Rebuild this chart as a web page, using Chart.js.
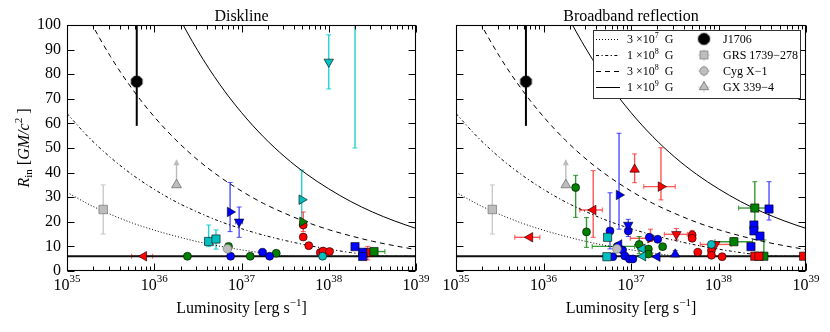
<!DOCTYPE html>
<html><head><meta charset="utf-8">
<script src="https://cdn.jsdelivr.net/npm/chart.js@4.4.1/dist/chart.umd.min.js"></script>
<style>
html,body{margin:0;padding:0;background:#fff;}
body{width:830px;height:332px;position:relative;overflow:hidden;}
canvas{position:absolute;top:0;}
#cL{left:0;} #cR{left:420px;}
</style></head><body>
<canvas id="cL" width="440" height="332"></canvas>
<canvas id="cR" width="410" height="332"></canvas>
<script>
// ---------------- text ----------------
const panelTitles = ['Diskline', 'Broadband reflection'];
const xDecades = [35, 36, 37, 38, 39];
const curveLabelMant = ['3 \u00d710', '1 \u00d710', '3 \u00d710', '1 \u00d710'];
const curveLabelExp = ['7', '8', '8', '9'];
const sourceNames = ['J1706', 'GRS 1739\u2212278', 'Cyg X\u22121', 'GX 339\u22124'];

// ---------------- model curves ----------------
const curveLum = [1e35, 1.778e35, 3.162e35, 5.623e35, 1e36, 1.778e36, 3.162e36, 5.623e36, 1e37,
                  1.778e37, 3.162e37, 5.623e37, 1e38, 1.778e38, 3.162e38, 5.623e38, 1e39];
const curve3e7 = [32, 27.1, 23.0, 19.5, 16.6, 14.1, 11.9, 10.1, 8.6, 7.3, 6.2, 6, 6, 6, 6, 6, 6];
const curve1e8 = [64, 54.3, 46.1, 39.1, 33.2, 28.1, 23.9, 20.2, 17.2, 14.6, 12.4, 10.5, 8.9, 7.5, 6.4, 6, 6];
const curve3e8 = [121, 102.7, 87.1, 73.9, 62.7, 53.2, 45.1, 38.3, 32.5, 27.5, 23.4, 19.8, 16.8, 14.3, 12.1, 10.3, 8.7];
const curve1e9 = [240, 203.6, 172.7, 146.5, 124.3, 105.5, 89.5, 75.9, 64.4, 54.6, 46.3, 39.3, 33.4, 28.3, 24.0, 20.4, 17.3];
const iscoLum = [1e35, 1e39];
const iscoR = [6, 6];

// ---------------- sources: [L, R, R_lo, R_hi, L_lo, L_hi] ----------------
const j1706 = [[6.3e35, 77, 59, 100]];
const grs1739 = [[2.6e35, 25, 15, 35]];
const cygX1 = [[6.9e36, 9]];
const gx339 = [[1.8e36, 35, 35, 45]]; // lower limit

// Diskline panel
const dlRedCircle = [[5.1e37, 18.7, 16, 24], [5.1e37, 13.8], [5.9e37, 10.3], [8.0e37, 7.5], [8.6e37, 8.1], [1.02e38, 7.9]];
const dlRedLeft = [[7.6e35, 6, null, null, 5.5e35, 9.6e35]];
const dlRedSquare = [[2.8e38, 7.5, 4.5, 10]];
const dlBlueCircle = [[7.5e36, 6], [1.74e37, 7.6], [2.1e37, 6]];
const dlBlueRight = [[7.4e36, 24, 16, 36]];
const dlBlueDown = [[9.4e36, 20, 13.7, 26, 8.6e36, 1.03e37]];
const dlBlueSquare = [[2.0e38, 9.9], [2.45e38, 7.6], [2.45e38, 5.9]];
const dlGreenCircle = [[2.4e36, 6], [7.1e36, 10], [1.26e37, 6], [2.5e37, 7.2]];
const dlGreenRight = [[5.0e37, 20]];
const dlGreenSquare = [[3.3e38, 7.9, null, null, 2.9e38, 4.4e38]];
const dlCyanSquare = [[4.2e36, 12, 9.9, 18.7], [5.1e36, 13, 8.9, 16.7]];
const dlCyanRight = [[4.9e37, 29, 20, 41]];
const dlCyanDown = [[1.0e38, 85, 74, 96], [2.0e38, 130, 50, 200]];
const dlCyanCircle = [[8.5e37, 6]];

// Broadband reflection panel
const bbRedCircle = [[5.0e37, 14.6, 13, 16.5], [5.0e37, 13.3], [5.8e37, 7.6], [8.3e37, 8.3], [8.3e37, 6.4], [1.1e38, 5.8]];
const bbRedLeft = [[7.0e35, 13.7, null, null, 4.7e35, 9.1e35], [3.7e36, 24.8, 13.7, 40.8, 2.6e36, 4.7e36]];
const bbRedUp = [[1.1e37, 41.3, 35.9, 47.6]];
const bbRedRight = [[2.2e37, 34.3, 28.9, 50.1, 1.4e37, 3.2e37], [1.67e37, 13.3, 12, 17, 9.8e36, 1.8e37]];
const bbRedDown = [[3.3e37, 14.9, 12.6, 17.3, 2.4e37, 4.4e37], [9.2e37, 10.8, null, null, 6.2e37, 1.4e38]];
const bbRedSquare = [[2.6e38, 6], [2.9e38, 6], [9.4e38, 6]];
const bbBlueCircle = [[5.75e36, 16.3, 9, 31.8], [6.2e36, 5.8], [9.3e36, 16.3], [8.0e36, 8.5], [8.5e36, 6.1],
                      [9.6e36, 4.9], [1.05e37, 4.9], [1.62e37, 13.7], [2.02e37, 12.9]];
const bbBlueRight = [[7.3e36, 30.9, 17, 56]];
const bbBlueDown = [[9.3e36, 18.7, 14, 21, 8.8e36, 9.9e36]];
const bbBlueLeft = [[7.3e36, 10.8], [2.0e37, 5.8]];
const bbBlueUp = [[3.2e37, 6.8, 5.8, 8.3]];
const bbBlueSquare = [[2.35e38, 9.9], [2.54e38, 18.7], [2.54e38, 16.3], [2.98e38, 14.2], [3.78e38, 25.2, 20.7, 36.3]];
const bbGreenCircle = [[2.33e36, 33.9, 21.8, 38.9], [3.1e36, 15.9, 9.6, 21.7], [7.0e36, 10, null, null, 3.6e36, 1.1e37],
                       [1.24e37, 10.8, 7, 14], [1.58e37, 8.9], [1.58e37, 6.9], [2.3e37, 9.9]];
const bbGreenSquare = [[1.5e38, 11.9, 11, 13.5, 9.1e37, 2.45e38], [2.6e38, 25.6, 20, 36.3, 1.7e38, 3.7e38], [3.3e38, 6, 5.8, 12.6]];
const bbCyanSquare = [[5.3e36, 5.8], [5.4e36, 13.7]];
const bbCyanLeft = [[1.35e37, 9.0], [1.37e37, 6.0]];
const bbCyanCircle = [[8.3e37, 10.8]];

// ---------------- styles ----------------
const FONT = "'Liberation Serif','DejaVu Serif',serif";
function octagon(r, fill) {
  const c = document.createElement('canvas'); const s = Math.ceil(2 * r + 2);
  c.width = c.height = s; const g = c.getContext('2d'); g.beginPath();
  for (let k = 0; k < 8; k++) { const a = Math.PI / 8 + k * Math.PI / 4;
    const px = s / 2 + r * Math.cos(a), py = s / 2 + r * Math.sin(a); k ? g.lineTo(px, py) : g.moveTo(px, py); }
  g.closePath(); g.fillStyle = fill; g.fill(); return c;
}
const octImg = octagon(6.3, '#000');
const EC = {red: 'rgba(255,30,30,0.75)', blue: 'rgba(20,20,255,0.75)', green: 'rgba(0,128,0,0.8)', cyan: 'rgba(0,200,200,0.85)'};
const COL = {red: '#ff0000', blue: '#0000ff', green: '#008000', cyan: '#00bfbf'};
function st(col, shape) {
  const m = {circle: ['circle', 4.0, 0], square: ['rect', 5.8, 0], up: ['triangle', 5.5, 0], right: ['triangle', 5.5, 90],
             down: ['triangle', 5.5, 180], left: ['triangle', 5.5, 270]}[shape];
  return {ps: m[0], r: m[1], rot: m[2], bg: COL[col], bc: '#000', bw: 0.6, err: EC[col], caps: true};
}
const STY = {
  j1706: {ps: octImg, r: 6.5, rot: 0, bg: '#000', bc: '#000', bw: 0, err: '#000', ew: 2, caps: false},
  grs: {ps: 'rect', r: 6.0, rot: 0, bg: '#bdbdbd', bc: '#808080', bw: 0.8, err: '#c8c8c8', caps: true},
  cyg: {ps: 'circle', r: 4.3, rot: 0, bg: '#bdbdbd', bc: '#808080', bw: 0.8},
  gx: {ps: 'triangle', r: 5.7, rot: 0, bg: '#bdbdbd', bc: '#707070', bw: 0.8, err: '#bbbbbb', arrow: true}
};

function pts(arr) {
  return arr.map(p => ({x: p[0], y: p[1], yl: p[2] ?? null, yh: p[3] ?? null, xl: p[4] ?? null, xh: p[5] ?? null}));
}
function sc(arr, s) {
  return {type: 'scatter', data: pts(arr), backgroundColor: s.bg, borderColor: s.bc, borderWidth: s.bw,
    pointStyle: s.ps, pointRadius: s.r, pointHoverRadius: s.r, pointRotation: s.rot, showLine: false, order: 1,
    errColor: s.err, errW: s.ew || 1.4, caps: s.caps, arrow: s.arrow};
}
const curveDefs = [
  {vals: curve3e7, dash: [1, 2]},
  {vals: curve1e8, dash: [3, 2.5, 1.2, 2.5]},
  {vals: curve3e8, dash: [5, 4]},
  {vals: curve1e9, dash: []}
];

// ---------------- plugins ----------------
function textRuns(ctx, parts, x, y, align) {
  let w = 0;
  parts.forEach(p => { ctx.font = (p[2] === 'i' ? 'italic ' : '') + p[1] + 'px ' + FONT; p.w = ctx.measureText(p[0]).width; w += p.w; });
  let cx = align === 'center' ? x - w / 2 : (align === 'right' ? x - w : x);
  ctx.textAlign = 'left'; ctx.textBaseline = 'alphabetic';
  parts.forEach(p => { ctx.font = (p[2] === 'i' ? 'italic ' : '') + p[1] + 'px ' + FONT; ctx.fillText(p[0], cx, y + (p[3] || 0)); cx += p.w; });
}

const errPlugin = {
  id: 'errbars',
  beforeDatasetsDraw(chart) {
    const ctx = chart.ctx, xs = chart.scales.x, ys = chart.scales.y, a = chart.chartArea;
    ctx.save(); ctx.beginPath(); ctx.rect(a.left, a.top, a.right - a.left, a.bottom - a.top); ctx.clip();
    chart.data.datasets.forEach(ds => {
      if (!ds.errColor) return;
      ctx.strokeStyle = ds.errColor; ctx.fillStyle = ds.errColor; ctx.lineWidth = ds.errW;
      ds.data.forEach(p => {
        const X = xs.getPixelForValue(p.x), Y = ys.getPixelForValue(p.y);
        if (p.yl != null && p.yh != null) {
          const y1 = ys.getPixelForValue(p.yl), y2 = ys.getPixelForValue(p.yh);
          ctx.beginPath(); ctx.moveTo(X, y1); ctx.lineTo(X, y2); ctx.stroke();
          if (ds.caps) { ctx.lineWidth = 1; ctx.beginPath(); ctx.moveTo(X - 2.5, y1); ctx.lineTo(X + 2.5, y1);
            ctx.moveTo(X - 2.5, y2); ctx.lineTo(X + 2.5, y2); ctx.stroke(); ctx.lineWidth = ds.errW; }
          if (ds.arrow) { ctx.beginPath(); ctx.moveTo(X, y2 - 1); ctx.lineTo(X - 3, y2 + 5); ctx.lineTo(X + 3, y2 + 5); ctx.closePath(); ctx.fill(); }
        }
        if (p.xl != null && p.xh != null) {
          const x1 = xs.getPixelForValue(p.xl), x2 = xs.getPixelForValue(p.xh);
          ctx.beginPath(); ctx.moveTo(x1, Y); ctx.lineTo(x2, Y); ctx.stroke();
          if (ds.caps) { ctx.lineWidth = 1; ctx.beginPath(); ctx.moveTo(x1, Y - 2.5); ctx.lineTo(x1, Y + 2.5);
            ctx.moveTo(x2, Y - 2.5); ctx.lineTo(x2, Y + 2.5); ctx.stroke(); ctx.lineWidth = ds.errW; }
        }
      });
    });
    ctx.restore();
  }
};

function framePlugin(panel) {
  return {
    id: 'frame' + panel,
    afterDatasetsDraw(chart) {
      const ctx = chart.ctx, xs = chart.scales.x, ys = chart.scales.y, a = chart.chartArea;
      const L = Math.round(a.left) + 0.5, R = Math.round(a.right) - 0.5, T = Math.round(a.top) + 0.5, B = Math.round(a.bottom) - 0.5;
      ctx.save(); ctx.strokeStyle = '#000'; ctx.lineWidth = 1;
      ctx.beginPath();
      for (let e = xDecades[0]; e <= xDecades[xDecades.length - 1]; e++) {
        for (let m = 1; m <= 9; m++) {
          if (e === xDecades[xDecades.length - 1] && m > 1) break;
          const px = Math.round(xs.getPixelForValue(m * Math.pow(10, e))) + 0.5;
          const len = m === 1 ? 7 : 4;
          ctx.moveTo(px, B); ctx.lineTo(px, B - len); ctx.moveTo(px, T); ctx.lineTo(px, T + len);
        }
      }
      ys.ticks.forEach(t => {
        const py = Math.round(ys.getPixelForValue(t.value)) + 0.5;
        ctx.moveTo(L, py); ctx.lineTo(L + 7, py); ctx.moveTo(R, py); ctx.lineTo(R - 7, py);
      });
      ctx.stroke();
      ctx.lineWidth = 1.1;
      ctx.strokeRect(L, T, R - L, B - T);
      ctx.restore();
    },
    afterDraw(chart) {
      const ctx = chart.ctx, xs = chart.scales.x, a = chart.chartArea;
      ctx.save(); ctx.fillStyle = '#000';
      const cx = (a.left + a.right) / 2;
      textRuns(ctx, [[panelTitles[panel], 16, 'n', 0]], cx, 21, 'center');
      xDecades.forEach(e => {
        textRuns(ctx, [['10', 16, 'n', 0], [String(e), 11, 'n', -8]], xs.getPixelForValue(Math.pow(10, e)), 290, 'center');
      });
      textRuns(ctx, [['Luminosity [erg s', 16, 'n', 0], ['\u22121', 11, 'n', -7], [']', 16, 'n', 0]], cx, 313, 'center');
      if (panel === 0) {
        ctx.save(); ctx.translate(29, (a.top + a.bottom) / 2); ctx.rotate(-Math.PI / 2);
        textRuns(ctx, [['R', 16, 'i', 0], ['in', 11, 'n', 3], [' [', 16, 'n', 0], ['GM/c', 16, 'i', 0], ['2', 11, 'n', -7], [' ]', 16, 'n', 0]], 0, 0, 'center');
        ctx.restore();
      } else {
        drawLegend(ctx);
      }
      ctx.restore();
    }
  };
}

function drawLegend(ctx) {
  const bx = 173, by = 30, bw = 207, bh = 68;
  ctx.save();
  ctx.fillStyle = '#fff'; ctx.fillRect(bx, by, bw, bh);
  ctx.strokeStyle = '#333'; ctx.lineWidth = 1; ctx.strokeRect(bx + 0.5, by + 0.5, bw, bh);
  const rows = [39, 55, 71, 87];
  curveDefs.forEach((c, i) => {
    ctx.strokeStyle = '#000'; ctx.lineWidth = 1; ctx.setLineDash(c.dash);
    ctx.beginPath(); ctx.moveTo(176, rows[i] + 0.5); ctx.lineTo(200, rows[i] + 0.5); ctx.stroke();
    ctx.setLineDash([]);
    ctx.fillStyle = '#000';
    textRuns(ctx, [[curveLabelMant[i], 12, 'n', 0], [curveLabelExp[i], 8, 'n', -5], ['  G', 12, 'n', 0]], 207, rows[i] + 4, 'left');
  });
  const mx = 284;
  const keys = ['j1706', 'grs', 'cyg', 'gx'];
  keys.forEach((k, i) => {
    const y = rows[i], s = STY[k];
    ctx.strokeStyle = k === 'j1706' ? '#000' : '#cfcfcf'; ctx.lineWidth = 1;
    ctx.beginPath(); ctx.moveTo(mx - 6, y); ctx.lineTo(mx + 6, y); ctx.moveTo(mx, y - 6); ctx.lineTo(mx, y + 6); ctx.stroke();
    ctx.fillStyle = s.bg; ctx.strokeStyle = s.bc; ctx.lineWidth = 0.8;
    ctx.beginPath();
    if (k === 'j1706') { ctx.drawImage(octImg, mx - octImg.width / 2, y - octImg.height / 2); }
    else if (k === 'grs') { ctx.rect(mx - 4, y - 4, 8, 8); ctx.fill(); ctx.stroke(); }
    else if (k === 'cyg') { ctx.arc(mx, y, 4.2, 0, 2 * Math.PI); ctx.fill(); ctx.stroke(); }
    else { ctx.moveTo(mx, y - 5.4); ctx.lineTo(mx + 4.7, y + 2.7); ctx.lineTo(mx - 4.7, y + 2.7); ctx.closePath(); ctx.fill(); ctx.stroke(); }
    ctx.fillStyle = '#000';
    textRuns(ctx, [[sourceNames[i], 12, 'n', 0]], 303, y + 4, 'left');
  });
  ctx.restore();
}

function makeChart(id, panel, series) {
  const datasets = [];
  [['j1706', j1706], ['grs', grs1739], ['cyg', cygX1], ['gx', gx339]].forEach(g => datasets.push(sc(g[1], STY[g[0]])));
  series.forEach(s => datasets.push(sc(s[0], st(s[1], s[2]))));
  curveDefs.forEach(c => datasets.push({type: 'line', data: curveLum.map((x, i) => ({x: x, y: c.vals[i]})),
    borderColor: '#000', borderWidth: 1, borderDash: c.dash, pointRadius: 0, cubicInterpolationMode: 'monotone',
    fill: false, showLine: true, order: 10}));
  datasets.push({type: 'line', data: iscoLum.map((x, i) => ({x: x, y: iscoR[i]})), borderColor: '#111', borderWidth: 2,
    pointRadius: 0, fill: false, showLine: true, order: 9});
  return new Chart(document.getElementById(id), {
    type: 'scatter',
    data: {datasets},
    options: {
      responsive: false, animation: false, events: [],
      layout: {padding: {left: 0, right: 24, top: 25, bottom: 0}},
      plugins: {legend: {display: false}, tooltip: {enabled: false}, title: {display: false}},
      scales: {
        x: {type: 'logarithmic', min: 1e35, max: 1e39, grid: {display: false, drawTicks: false}, border: {display: false},
            ticks: {display: false}, afterFit: s => { s.height = 61; }},
        y: {type: 'linear', min: 0, max: 100, grid: {display: false, drawTicks: false}, border: {display: false},
            ticks: {display: panel === 0, stepSize: 10, padding: 6, color: '#000', font: {family: FONT, size: 16}},
            afterFit: s => { s.width = panel === 0 ? 67 : 36; }}
      }
    },
    plugins: [errPlugin, framePlugin(panel)]
  });
}

makeChart('cL', 0, [
  [dlCyanDown, 'cyan', 'down'], [dlCyanRight, 'cyan', 'right'], [dlCyanCircle, 'cyan', 'circle'], [dlCyanSquare, 'cyan', 'square'],
  [dlGreenRight, 'green', 'right'], [dlGreenSquare, 'green', 'square'],
  [dlBlueSquare, 'blue', 'square'], [dlBlueRight, 'blue', 'right'], [dlBlueDown, 'blue', 'down'], [dlBlueCircle, 'blue', 'circle'],
  [dlRedCircle, 'red', 'circle'], [dlRedLeft, 'red', 'left'], [dlRedSquare, 'red', 'square'],
  [dlGreenCircle, 'green', 'circle']
]);
makeChart('cR', 1, [
  [bbCyanSquare, 'cyan', 'square'], [bbCyanLeft, 'cyan', 'left'], [bbCyanCircle, 'cyan', 'circle'],
  [bbBlueSquare, 'blue', 'square'], [bbBlueRight, 'blue', 'right'], [bbBlueDown, 'blue', 'down'], [bbBlueLeft, 'blue', 'left'],
  [bbBlueUp, 'blue', 'up'], [bbBlueCircle, 'blue', 'circle'],
  [bbRedCircle, 'red', 'circle'], [bbRedLeft, 'red', 'left'], [bbRedUp, 'red', 'up'], [bbRedRight, 'red', 'right'],
  [bbRedDown, 'red', 'down'], [bbRedSquare, 'red', 'square'],
  [bbGreenSquare, 'green', 'square'], [bbGreenCircle, 'green', 'circle']
]);
</script>
</body></html>
